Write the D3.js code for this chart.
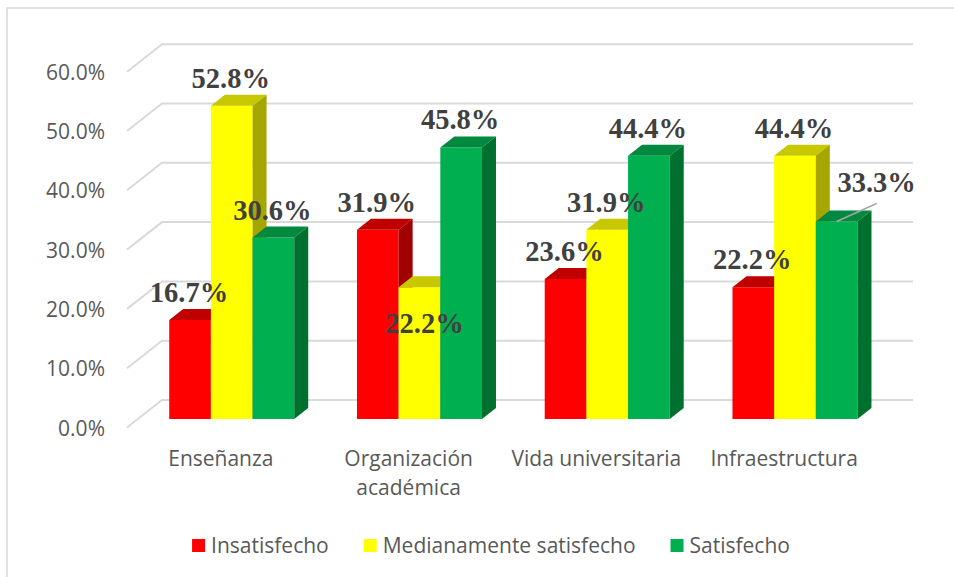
<!DOCTYPE html>
<html>
<head>
	<meta charset="utf-8">
	<script src="https://cdn.jsdelivr.net/npm/d3@7"></script>
	<style>
		html, body {
			padding: 0;
			margin: 0;
			background: #fff;
		}
	</style>
</head>
<body>
	<script>
		var width = 954, height = 577;

		// data
		var categories   = ["Enseñanza", "Organización académica", "Vida universitaria", "Infraestructura"];
		var seriesNames  = ["Insatisfecho", "Medianamente satisfecho", "Satisfecho"];
		var insatisfecho = [16.7, 31.9, 23.6, 22.2];
		var medianamente = [52.8, 22.2, 31.9, 44.4];
		var satisfecho   = [30.6, 45.8, 44.4, 33.3];
		var yTicks       = [0, 10, 20, 30, 40, 50, 60];
		var seriesValues = [insatisfecho, medianamente, satisfecho];

		// front / top / side shades of each series
		var faceColors = [
			{front: "#ff0000", top: "#c00000", side: "#a00000"},
			{front: "#ffff00", top: "#c8c800", side: "#a6a600"},
			{front: "#00b050", top: "#00893f", side: "#00702e"}
		];

		// labels Excel moved by hand: [category, series, dx, dy, leader]
		var labelNudge = [
			[1, 1, 6, 64, false],
			[3, 2, 41, -12, true]
		];

		var svg = d3.select("body").append("svg")
			.attr("width", width)
			.attr("height", height)
			.style("font-family", "'Open Sans', sans-serif");

		// chart frame
		svg.append("rect")
			.attr("x", 7).attr("y", 8)
			.attr("width", 980).attr("height", 600)
			.attr("fill", "none")
			.attr("stroke", "#d9d9d9")
			.attr("stroke-width", 1.5);

		/* the 3d box: front plane scales plus a depth vector */
		var depth = {dx: 35, dy: -27.5};
		var zFront = 0.31, zBack = 0.71;

		var x0 = d3.scaleBand().domain(categories).range([127, 878]);
		var x1 = d3.scaleBand().domain(seriesNames)
			.range([0, x0.bandwidth()])
			.paddingOuter(0.753);
		var y = d3.scaleLinear().domain([0, 60]).range([427.5, 71.7]);

		var P = function(x, v, z) {
			return [x + z * depth.dx, y(v) + z * depth.dy];
		};
		var poly = function(pts) {
			return "M" + pts.map(function(p) { return p[0] + "," + p[1]; }).join("L") + "Z";
		};

		// gridlines: side wall diagonal + back wall line
		var x0min = x0.range()[0], x0max = x0.range()[1];
		svg.append("g").selectAll("path")
			.data(yTicks)
			.join("path")
			.attr("d", function(t) {
				var a = P(x0min, t, 0), b = P(x0min, t, 1), c = P(x0max, t, 1);
				return "M" + a + "L" + b + "L" + c;
			})
			.attr("fill", "none")
			.attr("stroke", "#d9d9d9")
			.attr("stroke-width", 2);

		// y tick labels
		svg.append("g").selectAll("text")
			.data(yTicks)
			.join("text")
			.attr("x", 105)
			.attr("y", function(t) { return y(t) + 8; })
			.attr("text-anchor", "end")
			.attr("font-size", 21)
			.attr("fill", "#595959")
			.text(function(t) { return d3.format(".1f")(t) + "%"; });

		/* bars, drawn left to right so neighbours cover hidden sides */
		var bw = x1.bandwidth();
		var barsG = svg.append("g");
		var labelsData = [];
		categories.forEach(function(cat, ci) {
			seriesNames.forEach(function(s, si) {
				var v  = seriesValues[si][ci];
				var xl = x0(cat) + x1(s), xr = xl + bw;
				var col = faceColors[si];
				var g = barsG.append("g");
				g.append("path")
					.attr("d", poly([P(xl, 0, zFront), P(xr, 0, zFront), P(xr, v, zFront), P(xl, v, zFront)]))
					.attr("fill", col.front);
				g.append("path")
					.attr("d", poly([P(xl, v, zFront), P(xr, v, zFront), P(xr, v, zBack), P(xl, v, zBack)]))
					.attr("fill", col.top);
				g.append("path")
					.attr("d", poly([P(xr, 0, zFront), P(xr, v, zFront), P(xr, v, zBack), P(xr, 0, zBack)]))
					.attr("fill", col.side);

				var top = P(xl + bw / 2, v, zFront);
				var lab = {v: v, x: top[0] - 1, y: top[1] - 18, ax: top[0], ay: top[1], leader: false};
				labelNudge.forEach(function(n) {
					if (n[0] === ci && n[1] === si) {
						lab.x += n[2]; lab.y += n[3]; lab.leader = n[4];
					}
				});
				labelsData.push(lab);
			});
		});

		// leader lines
		svg.append("g").selectAll("line")
			.data(labelsData.filter(function(d) { return d.leader; }))
			.join("line")
			.attr("x1", function(d) { return d.x; })
			.attr("y1", function(d) { return d.y + 12; })
			.attr("x2", function(d) { return d.ax; })
			.attr("y2", function(d) { return d.ay; })
			.attr("stroke", "#a6a6a6")
			.attr("stroke-width", 1.5);

		// value labels
		svg.append("g").selectAll("text")
			.data(labelsData)
			.join("text")
			.attr("x", function(d) { return d.x; })
			.attr("y", function(d) { return d.y; })
			.attr("text-anchor", "middle")
			.attr("font-family", "'Liberation Serif', 'Times New Roman', serif")
			.attr("font-weight", "bold")
			.attr("font-size", 28.5)
			.attr("fill", "#404040")
			.text(function(d) { return d3.format(".1f")(d.v) + "%"; });

		// category labels, wrapped to the band width
		var catG = svg.append("g").selectAll("text")
			.data(categories)
			.join("text")
			.attr("x", function(d) { return x0(d) + x0.bandwidth() / 2; })
			.attr("y", 466)
			.attr("text-anchor", "middle")
			.attr("font-size", 21)
			.attr("fill", "#595959");
		catG.each(function(d) {
			var t = d3.select(this);
			var words = d.split(" ");
			t.text(d);
			if (this.getComputedTextLength() > x0.bandwidth() - 4 && words.length > 1) {
				t.text(null);
				words.forEach(function(w, i) {
					t.append("tspan")
						.attr("x", t.attr("x"))
						.attr("dy", i === 0 ? 0 : 29)
						.text(w);
				});
			}
		});

		/* legend */
		var legend = svg.append("g");
		var lx = 0;
		seriesNames.forEach(function(s, i) {
			var item = legend.append("g").attr("transform", "translate(" + lx + ",0)");
			item.append("rect")
				.attr("x", 0).attr("y", 539)
				.attr("width", 13).attr("height", 13)
				.attr("fill", faceColors[i].front);
			var tx = item.append("text")
				.attr("x", 19).attr("y", 553)
				.attr("font-size", 21)
				.attr("fill", "#595959")
				.text(s);
			lx += 19 + tx.node().getComputedTextLength() + 35;
		});
		var legendW = lx - 35;
		legend.attr("transform", "translate(" + (491 - legendW / 2) + ",0)");
	</script>
</body>
</html>
